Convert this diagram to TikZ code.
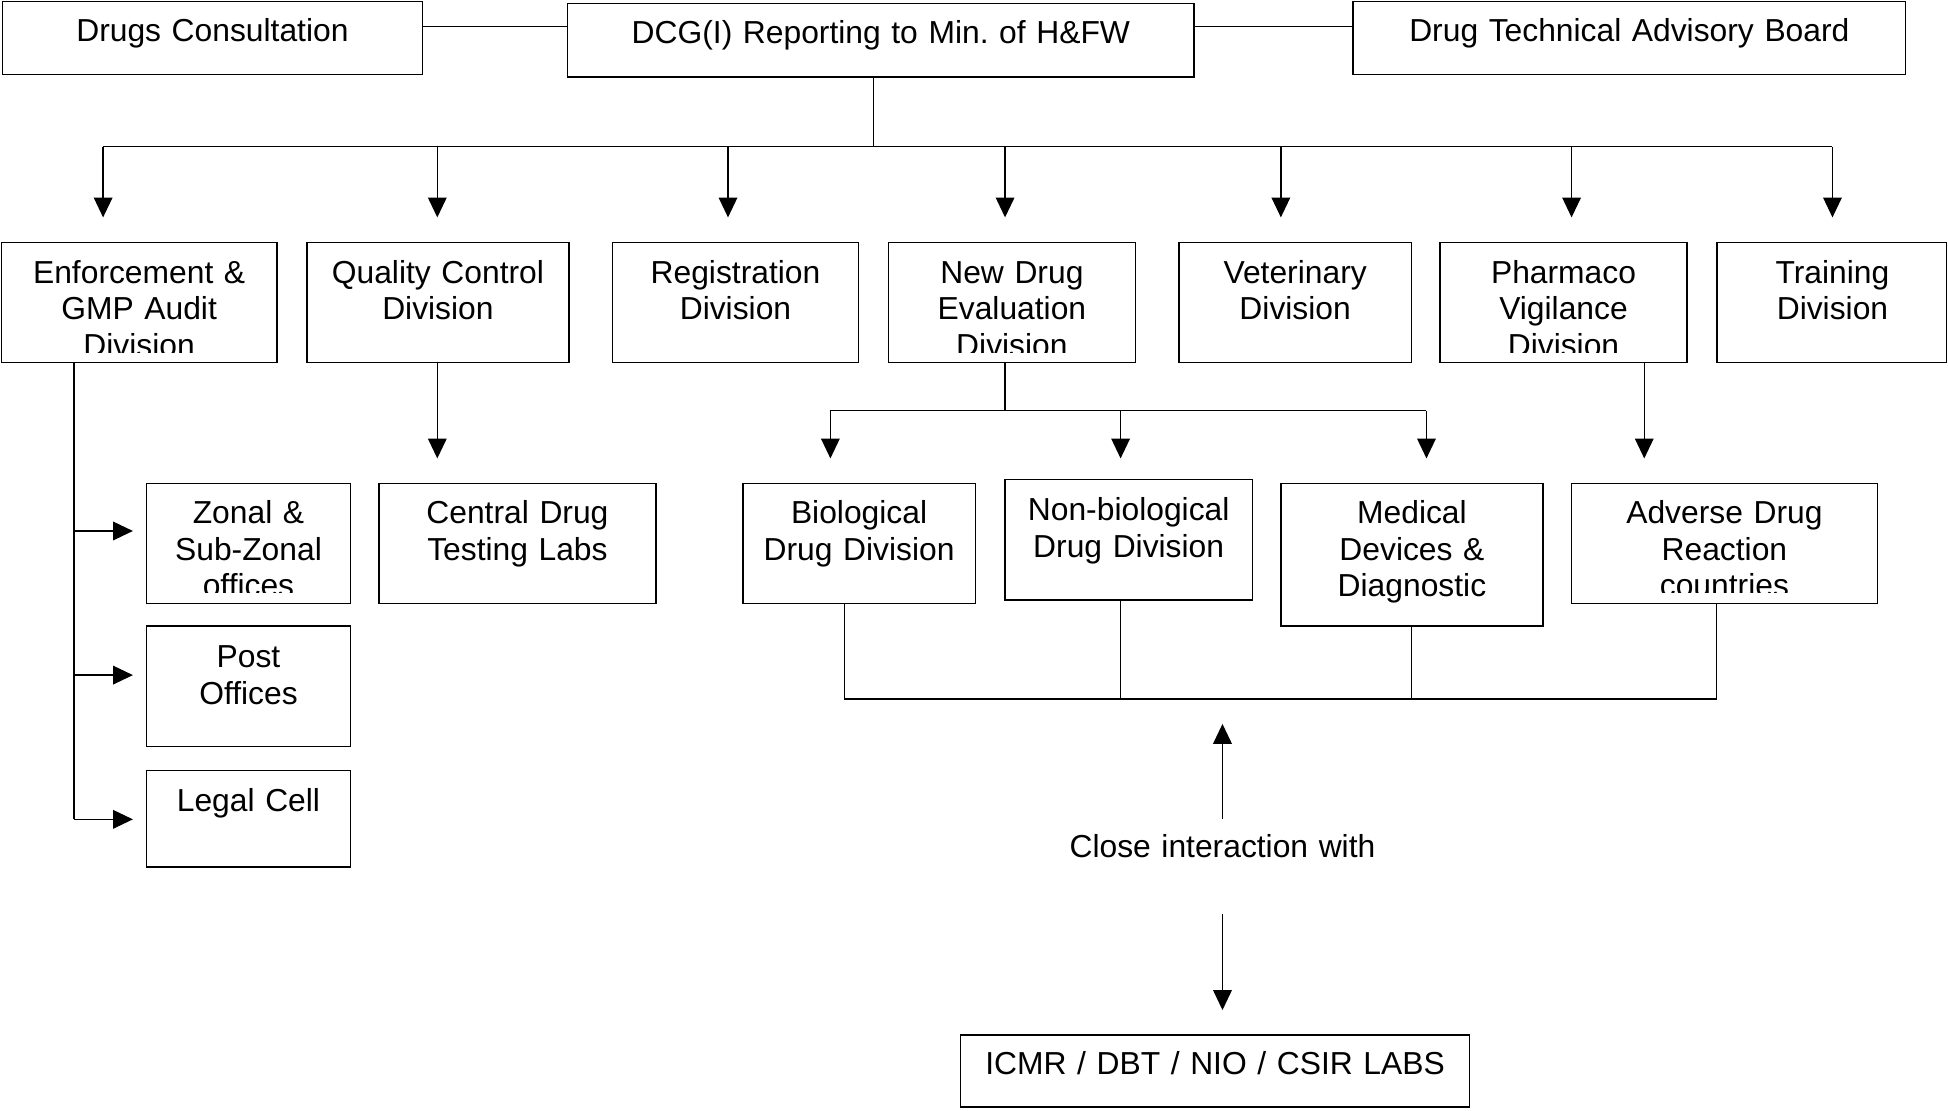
\documentclass[tikz,border=0pt]{standalone}
\usepackage{fontspec}
\setmainfont{Liberation Sans}
\usetikzlibrary{arrows.meta}
\frenchspacing
\newcommand\dbox[5]{\node[boxnode, minimum width={(#4)-(#2)}, minimum height={(#5)-(#3)}] (#1) at (#2,#3) {};}
\begin{document}
\begin{tikzpicture}[x=1pt,y=-1pt,
  boxnode/.style={draw, line width=1.1pt, inner sep=0pt, outer sep=0pt, anchor=north west},
  lbl/.style={anchor=base, align=center, inner sep=0pt, font=\fontsize{25.6}{29.5}\selectfont\frenchspacing},
  conn/.style={line width=1.1pt},
  arr/.style={line width=1.1pt, -{Triangle[width=15pt,length=16pt]}}]
\useasboundingbox (0,0) rectangle (1568,894);

% boxes
\dbox{dc}{2}{1}{340}{60}
\dbox{dcg}{457}{3}{961}{62}
\dbox{dtab}{1089}{1}{1534}{60}
\dbox{enf}{1}{195}{223}{292}
\dbox{qc}{247}{195}{458}{292}
\dbox{reg}{493}{195}{691}{292}
\dbox{nde}{715}{195}{914}{292}
\dbox{vet}{949}{195}{1136}{292}
\dbox{pv}{1159}{195}{1358}{292}
\dbox{trn}{1382}{195}{1567}{292}
\dbox{zon}{118}{389}{282}{486}
\dbox{post}{118}{504}{282}{601}
\dbox{legal}{118}{620}{282}{698}
\dbox{cdtl}{305}{389}{528}{486}
\dbox{bio}{598}{389}{785}{486}
\dbox{nonbio}{809}{386}{1008}{483}
\dbox{med}{1031}{389}{1242}{504}
\dbox{adr}{1265}{389}{1511}{486}
\dbox{icmr}{773}{833}{1183}{891}

% texts
\node[lbl, text width=330pt] (dct) at (171,33.5) {Drugs Consultation};
\node[lbl, text width=500pt] (dcgt) at (709,35) {DCG(I) Reporting to Min. of H\&FW};
\node[lbl, text width=440pt] (dtabt) at (1311.5,33.5) {Drug Technical Advisory Board};
\begin{scope}
\clip (1,195) rectangle (223,284);
\node[lbl, text width=220pt] (enft) at (112,228) {Enforcement \&\\GMP Audit\\Division};
\end{scope}
\node[lbl, text width=210pt] (qct) at (352.5,228) {Quality Control\\Division};
\node[lbl, text width=198pt] (regt) at (592,228) {Registration\\Division};
\begin{scope}
\clip (715,195) rectangle (914,284);
\node[lbl, text width=198pt] (ndet) at (814.5,228) {New Drug\\Evaluation\\Division};
\end{scope}
\node[lbl, text width=186pt] (vett) at (1042.5,228) {Veterinary\\Division};
\begin{scope}
\clip (1159,195) rectangle (1358,284);
\node[lbl, text width=198pt] (pvt) at (1258.5,228) {Pharmaco\\Vigilance\\Division};
\end{scope}
\node[lbl, text width=185pt] (trnt) at (1475,228) {Training\\Division};
\begin{scope}
\clip (118,389) rectangle (282,477);
\node[lbl, text width=164pt] (zont) at (200,421.5) {Zonal \&\\Sub-Zonal\\offices};
\end{scope}
\node[lbl, text width=164pt] (postt) at (200,537.5) {Post\\Offices};
\node[lbl, text width=164pt] (legalt) at (200,653) {Legal Cell};
\node[lbl, text width=222pt] (cdtlt) at (416.5,421.5) {Central Drug\\Testing Labs};
\node[lbl, text width=186pt] (biot) at (691.5,421.5) {Biological\\Drug Division};
\node[lbl, text width=198pt] (nonbiot) at (908.5,419) {Non-biological\\Drug Division};
\node[lbl, text width=210pt] (medt) at (1136.5,421.5) {Medical\\Devices \&\\Diagnostic};
\begin{scope}
\clip (1265,389) rectangle (1511,477);
\node[lbl, text width=245pt] (adrt) at (1388,421.5) {Adverse Drug\\Reaction\\countries};
\end{scope}
\node[lbl, text width=300pt] (ci) at (984,690.5) {Close interaction with};
\node[lbl, text width=408pt] (icmrt) at (978,865) {ICMR / DBT / NIO / CSIR LABS};

% top connectors
\coordinate (topline) at (0,21.5);
\draw[conn] (dc.east |- topline) -- (dcg.west |- topline);
\draw[conn] (dcg.east |- topline) -- (dtab.west |- topline);

% main bus
\coordinate (bus) at (0,118);
\coordinate (tx) at (703,0);
\coordinate (a1) at (83,0);
\coordinate (a2) at (352,0);
\coordinate (a3) at (586,0);
\coordinate (a4) at (809,0);
\coordinate (a5) at (1031,0);
\coordinate (a6) at (1265,0);
\coordinate (a7) at (1475,0);
\draw[conn] (dcg.south -| tx) -- (bus -| tx);
\draw[conn] (bus -| a1) -- (bus -| a7);
\draw[arr, shorten >=20pt] (bus -| a1) -- (enf.north -| a1);
\draw[arr, shorten >=20pt] (bus -| a2) -- (qc.north -| a2);
\draw[arr, shorten >=20pt] (bus -| a3) -- (reg.north -| a3);
\draw[arr, shorten >=20pt] (bus -| a4) -- (nde.north -| a4);
\draw[arr, shorten >=20pt] (bus -| a5) -- (vet.north -| a5);
\draw[arr, shorten >=20pt] (bus -| a6) -- (pv.north -| a6);
\draw[arr, shorten >=20pt] (bus -| a7) -- (trn.north -| a7);

% enforcement branches
\coordinate (ex) at (59.5,0);
\coordinate (b1) at (0,427.4);
\coordinate (b2) at (0,543.4);
\coordinate (b3) at (0,659.5);
\draw[conn] (enf.south -| ex) -- (b3 -| ex);
\draw[arr, shorten >=11pt] (b1 -| ex) -- (b1 -| zon.west);
\draw[arr, shorten >=11pt] (b2 -| ex) -- (b2 -| post.west);
\draw[arr, shorten >=11pt] (b3 -| ex) -- (b3 -| legal.west);

% quality control
\draw[arr, shorten >=20pt] (qc.south -| a2) -- (cdtl.north -| a2);

% new drug evaluation
\coordinate (mbus) at (0,330.6);
\coordinate (n1) at (668.4,0);
\coordinate (n2) at (902,0);
\coordinate (n3) at (1148.2,0);
\draw[conn] (nde.south -| a4) -- (mbus -| a4);
\draw[conn] (mbus -| n1) -- (mbus -| n3);
\draw[arr, shorten >=20pt] (mbus -| n1) -- (bio.north -| n1);
\draw[arr, shorten >=17pt] (mbus -| n2) -- (nonbio.north -| n2);
\draw[arr, shorten >=20pt] (mbus -| n3) -- (med.north -| n3);

% pharmaco vigilance
\coordinate (px) at (1323.5,0);
\draw[arr, shorten >=20pt] (pv.south -| px) -- (adr.north -| px);

% lower bus
\coordinate (lbus) at (0,562.7);
\coordinate (l1) at (679.5,0);
\coordinate (l3) at (1136.3,0);
\coordinate (l4) at (1381.7,0);
\draw[conn] (bio.south -| l1) -- (lbus -| l1);
\draw[conn] (nonbio.south -| n2) -- (lbus -| n2);
\draw[conn] (med.south -| l3) -- (lbus -| l3);
\draw[conn] (adr.south -| l4) -- (lbus -| l4);
\draw[conn] (lbus -| l1) -- (lbus -| l4);

% close interaction
\coordinate (ciup) at (984,659);
\coordinate (cidn) at (984,736);
\draw[arr, shorten >=20pt] (ciup) -- (lbus -| ciup);
\draw[arr, shorten >=20pt] (cidn) -- (icmr.north -| cidn);
\end{tikzpicture}
\end{document}
